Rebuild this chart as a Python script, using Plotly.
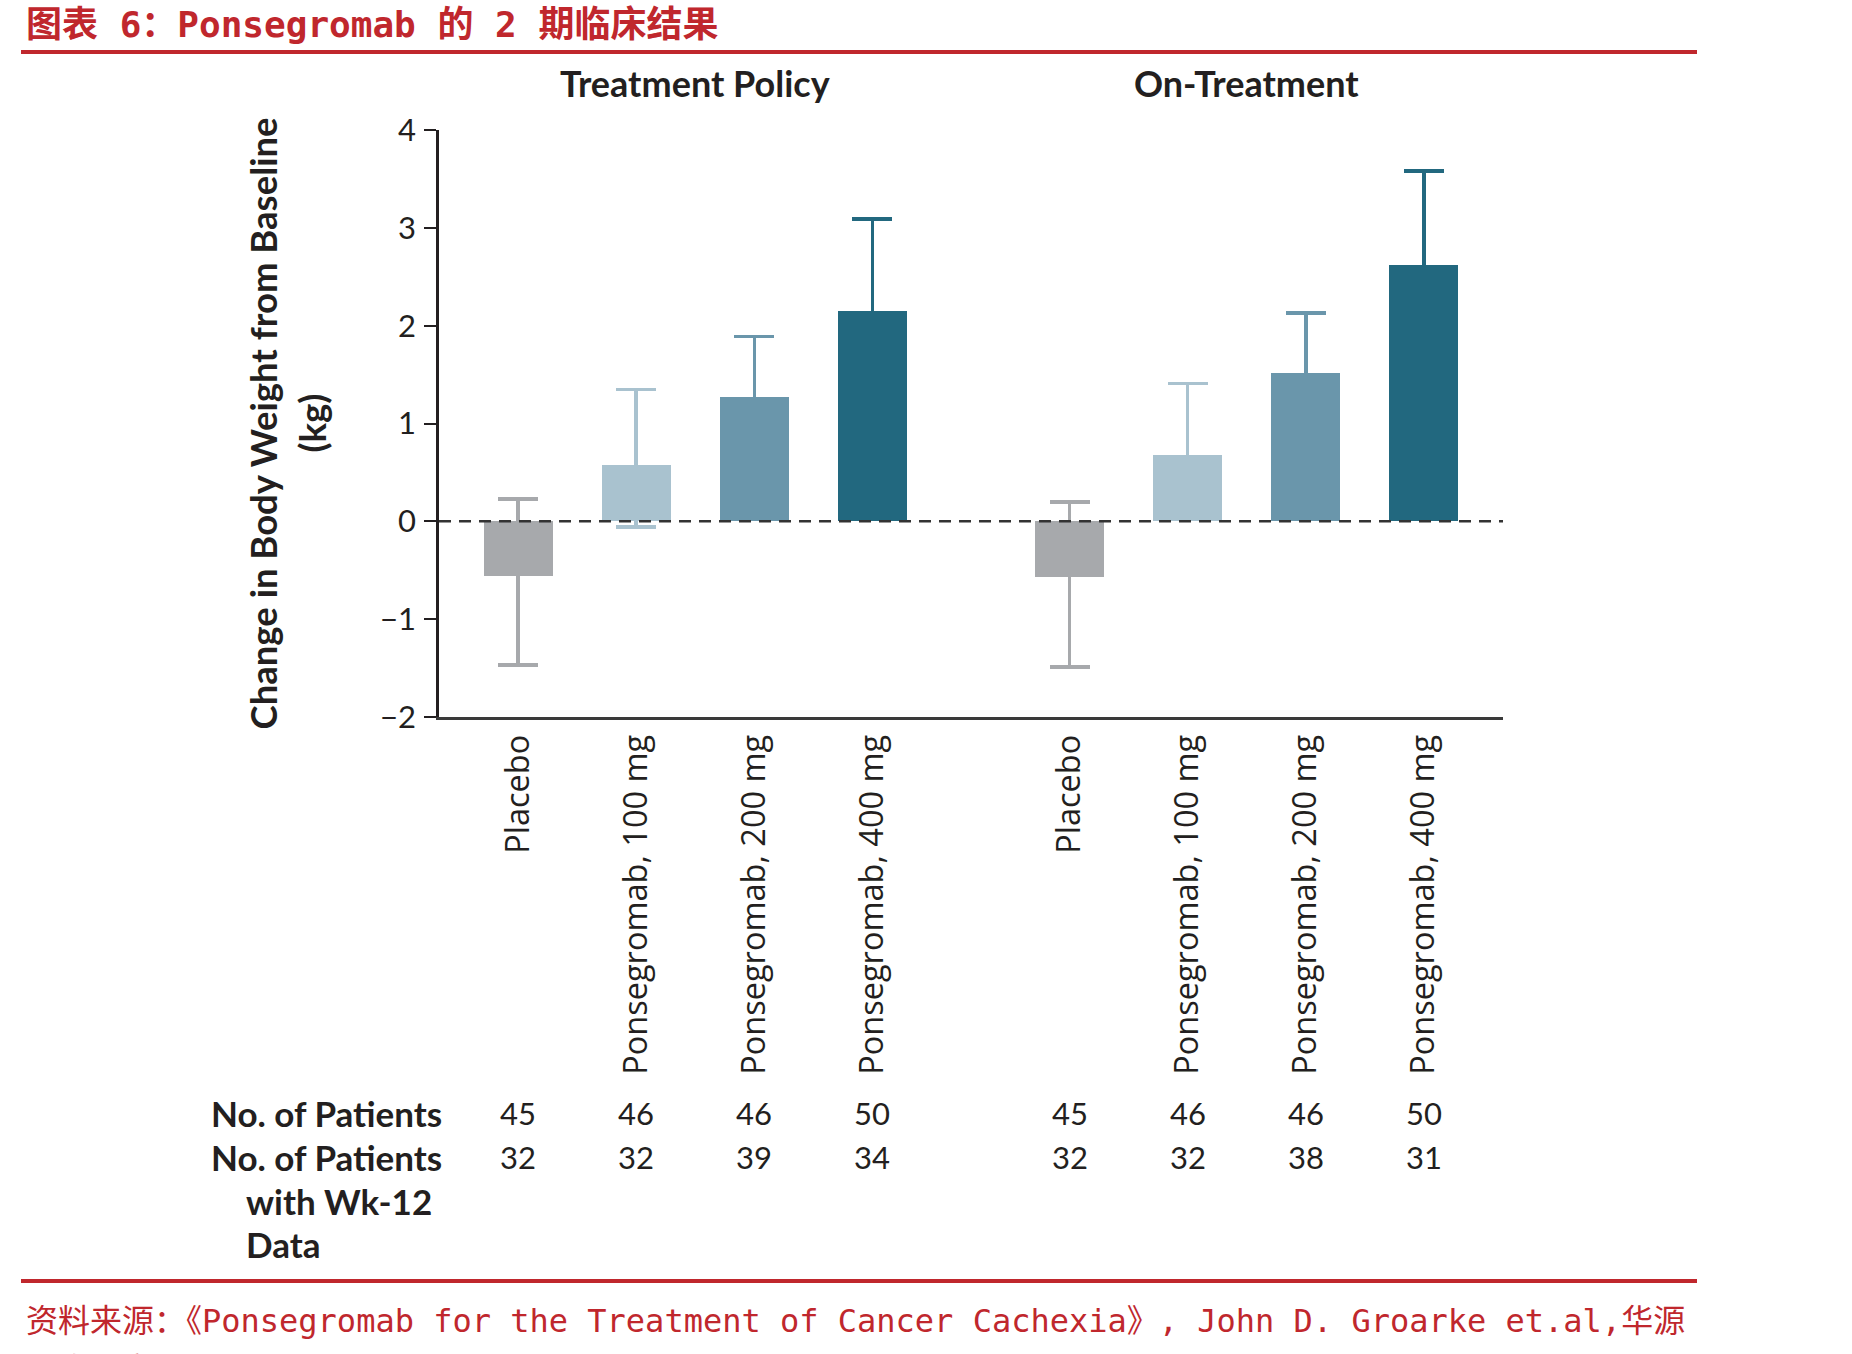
import plotly.graph_objects as go

# ---------------- data ----------------
groups = ["Treatment Policy", "On-Treatment"]
categories = ["Placebo", "Ponsegromab, 100 mg", "Ponsegromab, 200 mg", "Ponsegromab, 400 mg"]

policy_mean = [-0.56, 0.58, 1.27, 2.15]
policy_upper = [0.23, 1.35, 1.89, 3.09]
policy_lower = [-1.47, -0.06, 0.65, 1.21]

ontreat_mean = [-0.57, 0.68, 1.52, 2.62]
ontreat_upper = [0.20, 1.41, 2.13, 3.58]
ontreat_lower = [-1.49, 0.05, 0.91, 1.66]

policy_n = [45, 46, 46, 50]
policy_wk12 = [32, 32, 39, 34]
ontreat_n = [45, 46, 46, 50]
ontreat_wk12 = [32, 32, 38, 31]

y_ticks = [-2, -1, 0, 1, 2, 3, 4]
y_tick_text = ["\u22122", "\u22121", "0", "1", "2", "3", "4"]

title_text = "图表 6：Ponsegromab 的 2 期临床结果"
source_text = "资料来源：《Ponsegromab for the Treatment of Cancer Cachexia》, John D. Groarke et.al,华源"
source_text2 = "证券研究所"
y_title_1 = "Change in Body Weight from Baseline"
y_title_2 = "(kg)"
row_label_1 = "No. of Patients"
row_label_2 = ["No. of Patients", "with Wk-12", "Data"]

# ---------------- styles ----------------
colors = ["#A7A9AC", "#A9C2CF", "#6A96AB", "#22687F"]
RED = "#C0272D"
DARK = "#231F20"
W, H = 1852, 1354
L, R, T, B = 439, 1503, 130, 717  # plot area in pixels
GAP = 0.67
BAR_W = 0.585

means = [policy_mean, ontreat_mean]
uppers = [policy_upper, ontreat_upper]
lowers = [policy_lower, ontreat_lower]
ns = [policy_n, ontreat_n]
wk12s = [policy_wk12, ontreat_wk12]


def pos(g, i):
    return g * (len(categories) + GAP) + i


def px_x(X):
    return (X - L) / (R - L)


def px_y(Y):
    return (B - Y) / (B - T)


fig = go.Figure()
for i, cat in enumerate(categories):
    xs = [pos(g, i) for g in range(len(groups))]
    ys = [means[g][i] for g in range(len(groups))]
    up = [uppers[g][i] - means[g][i] for g in range(len(groups))]
    dn = [means[g][i] - lowers[g][i] for g in range(len(groups))]
    fig.add_trace(go.Bar(
        x=xs, y=ys, width=BAR_W, name=cat,
        marker=dict(color=colors[i], line=dict(width=0)),
        error_y=dict(type="data", symmetric=False, array=up, arrayminus=dn,
                     color=colors[i], thickness=3.5, width=20),
        showlegend=False,
    ))

tickvals = [pos(g, i) for g in range(len(groups)) for i in range(len(categories))]
ticktext = [c for g in range(len(groups)) for c in categories]

fig.update_layout(
    width=W, height=H,
    margin=dict(l=L, r=W - R, t=T, b=H - B),
    paper_bgcolor="white", plot_bgcolor="white",
    bargap=0,
    xaxis=dict(
        range=[-GAP, pos(1, 3) + GAP], tickvals=tickvals, ticktext=ticktext,
        tickangle=-90, showgrid=False, zeroline=False,
        showline=True, linecolor="#3A3A3A", linewidth=2.5,
        ticks="", ticklabelstandoff=2,
        tickfont=dict(family="Open Sans", size=32.5, color=DARK),
    ),
    yaxis=dict(
        range=[-2, 4], tickvals=y_ticks, ticktext=y_tick_text,
        showgrid=False, zeroline=False,
        showline=True, linecolor=DARK, linewidth=2.5,
        ticks="outside", ticklen=12, tickwidth=2, tickcolor=DARK,
        ticklabelstandoff=2,
        tickfont=dict(family="Lato", size=31, color=DARK),
    ),
)

# dashed zero line
fig.add_shape(type="line", xref="paper", x0=0, x1=1, yref="y", y0=0, y1=0,
              line=dict(color="#333333", width=2.5, dash="12px,8px"), layer="above")

# red rules
fig.add_shape(type="line", xref="paper", yref="paper",
              x0=px_x(21), x1=px_x(1697), y0=px_y(52), y1=px_y(52),
              line=dict(color=RED, width=4))
fig.add_shape(type="line", xref="paper", yref="paper",
              x0=px_x(21), x1=px_x(1697), y0=px_y(1281), y1=px_y(1281),
              line=dict(color=RED, width=4))

# title and source
fig.add_annotation(text=title_text, xref="paper", yref="paper",
                   x=px_x(24), y=px_y(25), xanchor="left", yanchor="middle",
                   showarrow=False,
                   font=dict(family="DejaVu Sans Mono, Noto Sans CJK SC", size=36,
                             color=RED, weight=700))
fig.add_annotation(text=source_text, xref="paper", yref="paper",
                   x=px_x(24), y=px_y(1321), xanchor="left", yanchor="middle",
                   showarrow=False,
                   font=dict(family="DejaVu Sans Mono, Noto Sans CJK SC", size=32, color=RED))
fig.add_annotation(text=source_text2, xref="paper", yref="paper",
                   x=px_x(24), y=px_y(1370), xanchor="left", yanchor="middle",
                   showarrow=False,
                   font=dict(family="DejaVu Sans Mono, Noto Sans CJK SC", size=32, color=RED))

# group titles
for g, name in enumerate(groups):
    fig.add_annotation(text=name, xref="x", yref="paper",
                       x=(pos(g, 0) + pos(g, len(categories) - 1)) / 2, y=px_y(83),
                       xanchor="center", yanchor="middle", showarrow=False,
                       font=dict(family="Lato", size=36, color=DARK, weight=700))

# y-axis title (two lines)
for txt, X in [(y_title_1, 262), (y_title_2, 311)]:
    fig.add_annotation(text=txt, xref="paper", yref="paper",
                       x=px_x(X), y=0.5, xanchor="center", yanchor="middle",
                       textangle=-90, showarrow=False,
                       font=dict(family="Lato", size=36.5, color=DARK, weight=700))

# patient count table
row_y = [1113, 1157]
fig.add_annotation(text=row_label_1, xref="paper", yref="paper",
                   x=px_x(209), y=px_y(row_y[0]), xanchor="left", yanchor="middle",
                   showarrow=False, font=dict(family="Lato", size=35, color=DARK, weight=700))
for k, (txt, X, Y) in enumerate(zip(row_label_2, [209, 244, 244], [1157, 1201, 1244])):
    fig.add_annotation(text=txt, xref="paper", yref="paper",
                       x=px_x(X), y=px_y(Y), xanchor="left", yanchor="middle",
                       showarrow=False, font=dict(family="Lato", size=35, color=DARK, weight=700))
for g in range(len(groups)):
    for i in range(len(categories)):
        for vals, Y in [(ns[g], row_y[0]), (wk12s[g], row_y[1])]:
            fig.add_annotation(text=str(vals[i]), xref="x", yref="paper",
                               x=pos(g, i), y=px_y(Y), xanchor="center", yanchor="middle",
                               showarrow=False,
                               font=dict(family="Lato", size=31, color=DARK))

fig.write_html("out.html")
